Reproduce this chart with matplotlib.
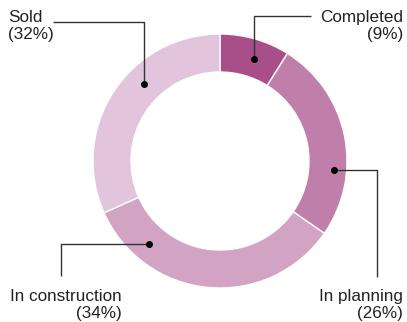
import matplotlib
matplotlib.use("Agg")
import matplotlib.pyplot as plt

# data
labels = ["Completed", "In planning", "In construction", "Sold"]
shares = [9, 26, 34, 32]
colors = ["#a84f8a", "#c07fab", "#d3a3c4", "#e2c5dc"]

W, H = 407, 322
fig = plt.figure(figsize=(W / 100, H / 100), dpi=100)
ax = fig.add_axes([0, 0, 1, 1])

CX, CY = 220, H - 161
R_OUT, RING = 127, 38

ax.pie(shares, colors=colors, startangle=90, counterclock=False,
       center=(CX, CY), radius=R_OUT,
       wedgeprops=dict(width=RING, edgecolor="white", linewidth=1.0))

ax.set_xlim(0, W)
ax.set_ylim(0, H)
ax.set_aspect("equal")
ax.axis("off")

# callouts: (dot, elbow, line end), text anchor, alignment  (pixel coords, y from top)
callouts = {
    "Completed":       ([(254, 59), (254, 16), (311, 16)], (403, 26), "right"),
    "In planning":     ([(334, 170), (377, 170), (377, 277)], (403, 305), "right"),
    "In construction": ([(149, 244), (61, 244), (61, 276)], (122, 305), "right"),
    "Sold":            ([(144, 84), (144, 22), (53, 22)], (8, 26), "left"),
}

for lab, pct in zip(labels, shares):
    pts, (tx, ty), ha = callouts[lab]
    xs = [p[0] for p in pts]
    ys = [H - p[1] for p in pts]
    ax.plot(xs, ys, color="#333333", lw=1.0, solid_capstyle="butt", zorder=3)
    ax.plot(xs[0], ys[0], "o", color="black", ms=4, zorder=4)
    ax.text(tx, H - ty, f"{lab}\n({pct}%)", ha=ha, va="center",
            multialignment="right" if ha == "right" else "left",
            fontsize=12.3, color="#222222", family="Liberation Sans",
            linespacing=1.2)

fig.savefig("out.png", dpi=100)
